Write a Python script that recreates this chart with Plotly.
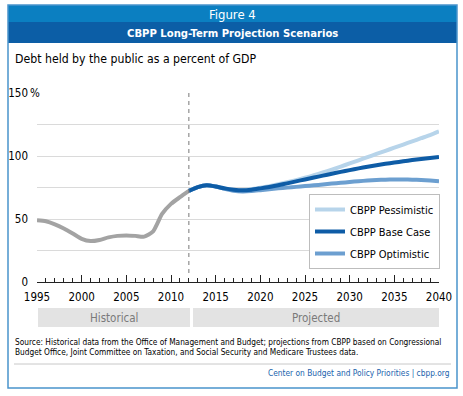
import plotly.graph_objects as go

# ---- data ----
hist_years = list(range(1995, 2013))
hist_debt = [49, 48.2, 45.8, 42.5, 38.5, 34.3, 32.5, 33.4, 35.4, 36.6, 37.0, 36.6, 36.0, 40.2, 54.0, 62.0, 67.3, 72.3]

proj_years = list(range(2012, 2041))
base_case = [72.3, 75.3, 76.8, 75.8, 74.3, 73.3, 72.8, 73.3, 74.3, 75.4, 76.8, 78.3, 79.9, 81.4,
             82.9, 84.4, 85.9, 87.4, 88.8, 90.2, 91.5, 92.7, 93.8, 94.8, 95.8, 96.8, 97.7, 98.5, 99.3]
pessimistic = [72.3, 75.3, 76.8, 75.8, 74.3, 73.3, 72.9, 73.6, 74.8, 76.1, 77.6, 79.2, 80.9, 82.7,
               84.7, 86.9, 89.2, 91.6, 94.1, 96.6, 99.1, 101.6, 104.1, 106.6, 109.1, 111.6, 114.1, 116.6, 119.5]
optimistic = [72.3, 75.3, 76.8, 75.8, 74.0, 72.5, 71.9, 72.2, 72.9, 73.6, 74.3, 74.9, 75.5, 76.1,
              76.7, 77.4, 78.1, 78.7, 79.4, 80.0, 80.5, 80.9, 81.2, 81.4, 81.4, 81.2, 80.9, 80.5, 80.0]

y_ticks = [0, 25, 50, 75, 100, 125, 150]
y_ticktext = ["0", "", "50", "", "100", "", "150"]
x_ticks = list(range(1995, 2041, 5))
x_ticktext = [str(v) for v in x_ticks]
divider_year = 2012

W, H = 463, 396
L, R, T, B = 37, 24, 93, 114
PW, PH = W - L - R, H - T - B

def px(x):
    return (x - L) / PW

def py(y):
    return (H - B - y) / PH

FONT = "DejaVu Sans Condensed, DejaVu Sans, sans-serif"

C_HIST = "#a3a3a3"
C_PESS = "#b7d4ea"
C_BASE = "#0e5ca6"
C_OPT = "#6c9fd0"

fig = go.Figure()
fig.add_trace(go.Scatter(x=hist_years, y=hist_debt, mode="lines", showlegend=False,
                         line=dict(color=C_HIST, width=4, shape="spline", smoothing=0.6),
                         hoverinfo="skip"))
fig.add_trace(go.Scatter(x=proj_years, y=pessimistic, mode="lines", name="CBPP Pessimistic",
                         legendgroup="a", legendrank=1,
                         line=dict(color=C_PESS, width=4, shape="spline", smoothing=0.6)))
fig.add_trace(go.Scatter(x=proj_years, y=optimistic, mode="lines", name="CBPP Optimistic",
                         legendgroup="c", legendrank=3,
                         line=dict(color=C_OPT, width=4, shape="spline", smoothing=0.6)))
fig.add_trace(go.Scatter(x=proj_years, y=base_case, mode="lines", name="CBPP Base Case",
                         legendgroup="b", legendrank=2,
                         line=dict(color=C_BASE, width=4, shape="spline", smoothing=0.6)))

shapes = []
shapes.append(dict(type="rect", xref="paper", yref="paper", x0=px(8), x1=px(457), y0=py(22), y1=py(5),
                   fillcolor="#0b7fc1", line=dict(width=0), layer="below"))
shapes.append(dict(type="rect", xref="paper", yref="paper", x0=px(8), x1=px(457), y0=py(43), y1=py(22),
                   fillcolor="#0c5ea6", line=dict(width=0), layer="below"))
shapes.append(dict(type="rect", xref="paper", yref="paper", x0=px(8), x1=px(457), y0=py(388), y1=py(5),
                   fillcolor="rgba(0,0,0,0)", line=dict(color="#4a94cc", width=1.5)))
shapes.append(dict(type="line", xref="x", yref="paper", x0=divider_year, x1=divider_year, y0=py(273), y1=1,
                   line=dict(color="#777777", width=1, dash="4px,4px")))
shapes.append(dict(type="rect", xref="paper", yref="paper", x0=px(38), x1=px(190), y0=py(327), y1=py(308),
                   fillcolor="#e3e3e3", line=dict(width=0)))
shapes.append(dict(type="rect", xref="paper", yref="paper", x0=px(193), x1=px(439), y0=py(327), y1=py(308),
                   fillcolor="#e3e3e3", line=dict(width=0)))
shapes.append(dict(type="line", xref="paper", yref="paper", x0=px(14), x1=px(451), y0=py(364), y1=py(364),
                   line=dict(color="#c8c8c8", width=1)))

ann = []
def text(x, y, s, size, color="#000000", xanchor="left", bold=False):
    if bold:
        s = "<b>" + s + "</b>"
    ann.append(dict(x=px(x), y=py(y), xref="paper", yref="paper", text=s, showarrow=False,
                    xanchor=xanchor, yanchor="middle", font=dict(family=FONT, size=size, color=color)))

text(232, 14, "Figure 4", 13, "#ffffff", "center")
text(232, 33, "CBPP Long-Term Projection Scenarios", 11.2, "#ffffff", "center", bold=True)
text(13, 59, "Debt held by the public as a percent of GDP", 12.2)
text(28, 93, "%", 11.5, "#000000")
text(114, 318, "Historical", 11.5, "#7a7a7a", "center")
text(316, 318, "Projected", 11.5, "#7a7a7a", "center")
text(13, 342, "Source: Historical data from the Office of Management and Budget; projections from CBPP based on Congressional", 8.25)
text(13, 352, "Budget Office, Joint Committee on Taxation, and Social Security and Medicare Trustees data.", 8.25)
text(452, 373, "Center on Budget and Policy Priorities | cbpp.org", 8.3, "#1a63ad", "right")

fig.update_layout(
    width=W, height=H,
    margin=dict(l=L, r=R, t=T, b=B, autoexpand=False),
    paper_bgcolor="#ffffff", plot_bgcolor="#ffffff",
    font=dict(family=FONT, size=11, color="#000000"),
    shapes=shapes, annotations=ann,
    legend=dict(x=px(440), y=py(194), xanchor="right", yanchor="top",
                bgcolor="#ffffff", bordercolor="#bdbdbd", borderwidth=1,
                font=dict(family=FONT, size=11, color="#000000"),
                itemwidth=30, tracegroupgap=3, traceorder="grouped"),
    xaxis=dict(range=[1995, 2040], tickvals=x_ticks, ticktext=x_ticktext,
               showgrid=False, zeroline=False, showline=True, linecolor="#222222", linewidth=1,
               ticks="inside", ticklen=7, tickcolor="#222222", tickwidth=1, ticklabelstandoff=4,
               minor=dict(dtick=1, ticks="inside", ticklen=4, tickcolor="#222222", tickwidth=1, showgrid=False),
               tickfont=dict(family=FONT, size=11.5, color="#000000"), fixedrange=True),
    yaxis=dict(range=[0, 150], tickvals=y_ticks, ticktext=y_ticktext,
               showgrid=True, gridcolor="#dadada", gridwidth=1, zeroline=False, showline=False,
               ticks="", ticklabelstandoff=8,
               tickfont=dict(family=FONT, size=11.5, color="#000000"), fixedrange=True),
    showlegend=True,
)

fig.write_html("out.html", config={"displayModeBar": False},
               post_script="document.body.style.margin='0px';")
